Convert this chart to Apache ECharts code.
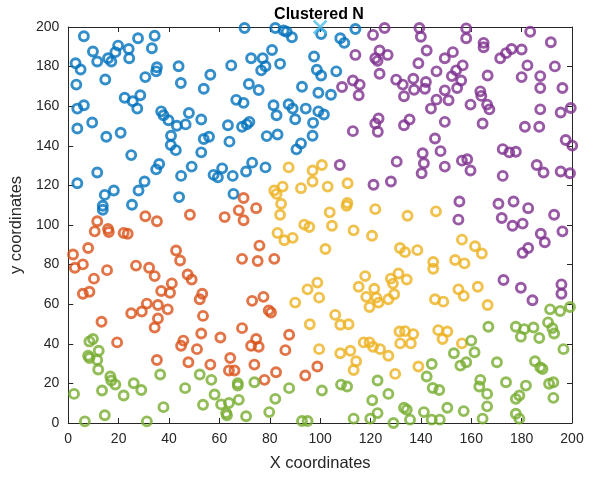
<!DOCTYPE html>
<html>
<head>
<meta charset="utf-8">
<script src="https://cdn.jsdelivr.net/npm/echarts@6/dist/echarts.min.js"></script>
<style>html,body{margin:0;padding:0;background:#fff}#c{width:595px;height:477px}</style>
</head>
<body>
<div id="c"></div>
<script>
const titleText = 'Clustered N';
const xLabel = 'X coordinates';
const yLabel = 'y coordinates';

const cluster1 = [[6.2,195.3],[9.8,187.6],[11.5,182.6],[2.9,181.7],[4.9,178.5],[15.8,184.2],[17.1,182.6],[18.7,187.3],[19.8,190.6],[24.0,188.9],[24.2,184.2],[27.7,194.3],[34.3,195.6],[33.2,189.3],[14.7,173.5],[3.2,170.9],[30.6,174.7],[35.2,179.7],[34.9,177.6],[43.8,180.2],[44.7,171.7],[22.4,164.3],[25.6,162.5],[28.6,165.5],[27.4,158.8],[6.2,160.5],[3.6,158.8],[9.5,151.8],[3.6,148.7],[15.1,144.6],[20.8,146.6],[36.9,157.4],[37.8,155.4],[39.8,152.9],[43.1,150.1],[46.6,150.8],[47.9,156.6],[40.8,145.1],[40.7,140.4],[42.7,137.8],[25.0,135.3],
[70.0,199.5],[82.2,199.5],[85.5,198.2],[86.7,197.6],[88.8,194.8],[80.9,188.4],[72.6,184.2],[77.2,184.2],[78.3,180.2],[76.6,178.1],[84.1,181.4],[64.7,180.6],[56.4,175.9],[53.8,168.8],[71.7,171.2],[75.6,168.2],[66.7,163.2],[69.6,161.7],[81.5,160.5],[82.7,155.4],[87.5,161.0],[89.1,158.8],[90.1,153.4],[94.3,158.8],[92.8,169.8],[97.6,185.1],[98.7,178.4],[99.3,166.8],[99.3,157.4],[97.2,151.6],[97.0,145.1],[92.4,141.2],[90.6,138.2],[83.1,145.7],[78.8,144.9],[71.9,152.1],[70.9,150.8],[69.0,149.6],[63.4,150.4],[64.0,142.1],[55.9,144.6],[53.8,143.4],[52.8,153.3],[52.8,136.7],
[100.4,196.5],[108.0,194.3],[109.6,192.0],[114.0,199.0],[100.4,175.5],[106.4,177.6],[104.3,165.8],[101.5,155.8],
[11.5,126.5],[3.6,121.1],[14.5,115.2],[18.1,117.4],[13.7,109.7],[13.7,107.7],[27.9,117.4],[30.3,122.0],[25.3,110.2],[34.9,128.1],[36.1,130.8],[49.0,129.5],[44.8,124.8],[44.0,114.1],
[57.7,125.3],[59.4,124.1],[61.1,128.6],[65.3,124.8],[70.6,127.0],[73.0,131.5],[78.3,129.1],[65.6,115.7]];

const cluster2 = [[48.3,105.2],[30.6,104.4],[35.2,101.9],[11.5,101.9],[10.5,96.8],[15.8,98.0],[16.1,96.5],[22.0,96.0],[23.6,95.6],[7.9,88.4],[1.9,85.1],[2.6,78.4],[5.8,80.1],[15.4,77.2],[10.2,72.9],[26.9,79.5],[32.1,78.4],[34.3,74.2],[42.8,87.1],[44.4,82.1],[47.4,75.0],[49.0,72.5],[41.1,70.5],
[5.8,65.3],[8.4,66.3],[36.9,66.7],[40.4,65.8],[31.2,60.3],[29.2,56.3],[25.0,55.4],[35.6,59.6],[39.5,57.4],[35.6,52.8],[34.3,48.2],[13.2,51.1],[19.4,40.7],[45.7,41.6],[44.8,39.0],[35.2,31.8],[47.7,30.7],
[69.6,113.6],[67.7,107.4],[69.6,102.4],[74.6,108.5],[62.1,104.0],[75.9,89.6],[69.0,82.9],[75.2,81.8],[81.8,82.9],
[53.2,65.3],[52.2,62.5],[53.5,54.1],[52.8,45.2],[51.1,37.3],[60.4,43.2],[56.4,29.5],[64.3,32.8],[63.8,26.5],[66.0,26.5],[69.0,47.9],[73.0,61.7],[77.5,63.7],[79.6,56.9],[80.5,55.8],[74.6,42.4],[72.6,39.0],[75.6,38.5],[73.9,29.5],[77.9,21.8],[82.5,25.6],[87.7,44.6],[86.2,36.8],[94.1,24.0],[98.9,28.5]];

const cluster3 = [[87.5,129.1],[81.8,117.4],[82.7,115.7],[85.1,119.4],[84.5,110.7],[84.1,105.2],[92.4,118.6],[97.0,127.5],[97.0,122.0],[100.7,130.3],[93.7,100.2],[95.7,99.0],[83.1,96.0],[85.8,92.3],[89.1,93.5],[98.9,70.9],[95.0,67.5],
[103.0,119.4],[110.9,121.1],[110.8,111.1],[110.5,109.7],[103.8,106.4],[121.9,108.0],[134.7,104.7],[146.0,106.9],[104.7,99.6],[113.3,97.3],[120.6,94.6],[102.1,87.9],[131.7,88.4],[133.7,86.3],[138.6,87.3],[144.9,81.3],[144.9,77.9],[117.9,74.2],[115.3,68.8],[121.5,67.8],[128.1,72.9],[131.1,75.5],[134.4,72.5],[128.9,70.4],
[156.3,92.6],[161.5,89.3],[164.2,85.6],[153.6,82.3],[157.3,80.6],[162.6,68.8],[154.9,67.5],
[90.1,60.8],[99.6,63.3],[95.9,49.9],[99.6,37.3],
[118.3,63.7],[122.3,63.3],[123.2,60.8],[119.6,58.6],[127.1,62.5],[129.4,65.0],[145.6,62.5],[148.9,61.3],[106.0,54.6],[108.0,49.6],[111.3,49.9],[131.5,46.2],[133.7,46.4],[137.0,44.9],[131.8,40.2],[136.0,40.2],[146.9,46.9],[148.6,42.4],[117.3,40.7],[119.6,40.7],[121.0,38.5],[123.8,37.3],[127.1,34.0],[108.0,35.2],[112.0,36.5],[114.3,31.2],[113.3,26.8],[129.8,24.8],[139.0,28.5],
[157.0,64.2],[166.5,59.6],[150.5,46.2],[156.3,40.2]];

const cluster4 = [[121.0,196.0],[125.6,199.5],[139.4,199.5],[140.0,195.1],[114.0,185.9],[123.6,188.1],[121.9,184.2],[122.8,182.9],[126.8,185.9],[142.3,188.1],[139.0,181.7],[149.5,184.2],[123.6,176.4],[113.0,173.0],[115.7,170.9],[108.7,169.7],[115.3,165.5],[130.2,173.4],[132.8,170.9],[137.0,173.9],[137.3,168.3],[133.3,165.0],[142.0,172.2],[141.6,168.8],[146.2,177.6],[149.5,168.0],[146.2,163.3],[144.0,158.8],[151.0,163.0],[149.5,152.1],[123.2,153.8],[121.9,151.3],[122.9,147.1],[113.0,147.4],[135.5,153.3],[133.3,150.4],[145.6,143.7],[147.8,137.3],[140.7,136.2],
[158.0,199.3],[158.0,194.3],[164.9,192.0],[164.9,189.8],[183.4,197.6],[191.6,192.3],[180.0,188.6],[176.0,188.9],[173.8,186.8],[171.5,184.2],[152.7,187.3],[156.6,180.6],[154.0,178.1],[152.3,175.2],[156.0,173.0],[154.4,169.2],[166.5,175.5],[163.6,167.5],[164.0,165.2],[166.3,160.8],[167.2,158.4],[159.7,160.8],[164.5,151.3],[180.0,174.7],[182.3,180.6],[187.4,175.2],[187.4,169.2],[193.2,180.1],[196.2,169.2],[187.4,158.4],[195.5,156.8],[199.5,159.1],[181.3,149.6],[187.0,149.6],[197.5,142.9],[200.1,140.1],[172.5,138.3],[175.1,136.7],[177.7,137.0],
[107.8,130.3],[130.4,132.0],[121.2,120.3],[128.1,122.0],[141.2,131.2],[140.3,126.1],[149.5,129.5],
[156.3,132.5],[158.4,133.2],[159.7,127.5],[172.5,124.8],[186.0,130.3],[188.7,126.5],[195.5,127.0],[199.2,126.1],[155.3,111.9],[154.9,102.7],[170.8,110.7],[176.8,111.9],[182.6,108.5],[172.1,103.5],[176.4,99.6],[180.4,100.7],[192.9,105.2],[187.6,95.6],[189.2,91.3],[196.2,96.8],[182.6,88.4],[180.4,85.9],[172.8,72.2],[179.7,68.3],[195.8,70.0],
[184.3,62.0],[195.8,65.3]];

const cluster5 = [[8.4,41.2],[9.8,42.4],[7.9,34.0],[8.4,32.8],[12.1,36.5],[11.5,31.8],[11.9,27.0],[16.7,23.5],[17.1,21.5],[18.7,19.4],[13.4,16.4],[22.0,13.9],[26.0,20.1],[29.0,16.7],[36.5,24.5],[2.3,14.7],[14.5,3.9],[6.6,0.8],[31.2,0.8],[37.8,8.0],[46.4,17.6],
[52.2,24.5],[56.8,21.8],[53.5,9.2],[58.1,14.4],[60.7,9.4],[63.8,10.1],[62.7,5.0],[63.0,3.9],[67.3,20.1],[67.3,18.9],[73.9,20.6],[67.7,11.7],[70.6,3.4],[79.8,5.5],[82.2,12.2],[87.7,17.6],[92.8,1.0],[95.0,1.0],[100.7,16.4],
[108.3,19.4],[110.7,18.4],[122.8,21.5],[127.1,14.7],[120.7,11.5],[122.8,5.0],[119.9,2.2],[113.3,2.2],[133.3,7.7],[134.4,6.7],[135.7,1.7],[129.1,0.0],[144.3,29.8],[142.3,23.5],[144.7,17.7],[147.3,16.7],[141.2,5.5],[144.3,1.7],[147.5,1.7],[150.5,7.7],
[191.3,57.4],[195.3,56.6],[199.2,58.6],[166.8,48.6],[177.7,48.6],[181.0,47.4],[179.7,43.6],[184.7,48.2],[187.0,42.9],[190.5,50.8],[192.2,47.9],[192.9,45.2],[196.6,37.3],[160.0,41.6],[153.1,35.2],[161.3,35.7],[158.0,30.7],[155.7,29.0],[170.2,30.7],[185.3,31.2],[187.4,28.1],[188.3,27.3],[163.6,21.8],[163.2,18.4],[166.3,14.7],[173.8,20.6],[181.7,18.9],[179.1,13.9],[177.7,12.2],[190.9,19.8],[192.6,20.6],[192.6,12.7],[166.3,8.4],[157.0,6.0],[164.5,2.2],[177.7,4.7],[179.1,2.2]];

const centerPoint = [[100, 200]];

const clusterColors = ['#0072BD', '#D95319', '#EDB120', '#7E2F8E', '#77AC30'];
const clusters = [cluster1, cluster2, cluster3, cluster4, cluster5];

const chart = echarts.init(document.getElementById('c'), null, {renderer: 'canvas'});
const axisColor = '#262626';
const fontFam = '"Liberation Sans", Arial, Helvetica, sans-serif';

function mkAxis(pos, showLabel, name, nameGap) {
  return {
    type: 'value', min: 0, max: 200, interval: 20, position: pos,
    axisLine: {show: true, onZero: false, lineStyle: {color: axisColor, width: 1}},
    axisTick: {show: true, inside: true, length: 5, lineStyle: {color: axisColor}},
    axisLabel: {show: showLabel, color: axisColor, fontSize: 14, fontFamily: fontFam, margin: 9},
    splitLine: {show: false},
    name: name || '', nameLocation: 'middle', nameGap: nameGap || 0,
    nameTextStyle: {color: axisColor, fontSize: 16.5, fontFamily: fontFam}
  };
}

const series = clusters.map((d, i) => ({
  type: 'scatter', data: d, symbol: 'circle', symbolSize: 9,
  xAxisIndex: 0, yAxisIndex: 0, clip: false,
  itemStyle: {color: 'rgba(0,0,0,0)', borderColor: clusterColors[i], borderWidth: 2.9},
  emphasis: {disabled: true}
}));
series.push({
  type: 'scatter', data: centerPoint, symbol: 'path://M0,0L10,10M10,0L0,10', symbolSize: 13,
  xAxisIndex: 0, yAxisIndex: 0, clip: false,
  itemStyle: {color: 'rgba(0,0,0,0)', borderColor: '#4DBEEE', borderWidth: 2.5},
  emphasis: {disabled: true}
});

chart.setOption({
  animation: false,
  backgroundColor: '#fff',
  title: {text: titleText, left: 314, textAlign: 'center', top: 2,
    textStyle: {fontSize: 16, fontWeight: 'bold', color: '#000', fontFamily: fontFam}},
  grid: {left: 66, right: 23, top: 27, bottom: 51, containLabel: false},
  xAxis: [mkAxis('bottom', true, xLabel, 32), mkAxis('top', false)],
  yAxis: [mkAxis('left', true, yLabel, 36), mkAxis('right', false)],
  series: series
});
</script>
</body>
</html>
